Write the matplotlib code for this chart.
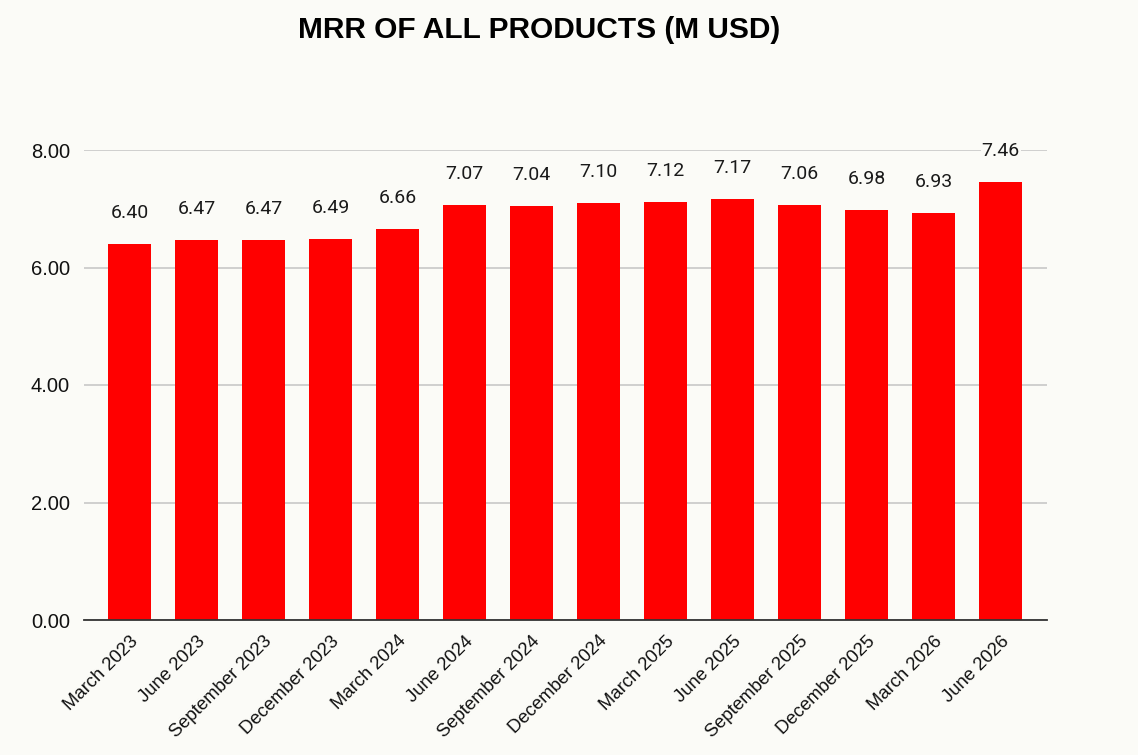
import matplotlib
matplotlib.use('Agg')
from matplotlib import pyplot as plt


QUARTERS = ['March 2023', 'June 2023', 'September 2023', 'December 2023',
            'March 2024', 'June 2024', 'September 2024', 'December 2024',
            'March 2025', 'June 2025', 'September 2025', 'December 2025',
            'March 2026', 'June 2026']
MRR = [6.40, 6.47, 6.47, 6.49, 6.66, 7.07, 7.04, 7.10, 7.12, 7.17,
       7.06, 6.98, 6.93, 7.46]
Y_TICKS = [0, 2, 4, 6, 8]

BG = '#fbfbf7'
RED = '#ff0000'

fig = plt.figure(figsize=(11.38, 7.55), dpi=100, facecolor=BG)
ax = fig.add_axes([84 / 1138, 1 - 620 / 755, (1047 - 84) / 1138, 470 / 755])
ax.set_facecolor(BG)

x = range(len(QUARTERS))
ax.bar(x, MRR, width=0.64, color=RED, zorder=2)

for xi, v in zip(x, MRR):
    ax.annotate(f'{v:.2f}', (xi, v), xytext=(0, 31), textcoords='offset pixels',
                ha='center', va='center', fontsize=14, family='Roboto',
                color='#1a1a1a', zorder=4,
                bbox=dict(boxstyle='square,pad=0.05', fc=BG, ec='none'))

ax.set_xlim(-0.68, 13.69)
ax.set_ylim(0, 8)
ax.set_yticks(Y_TICKS)
ax.set_yticklabels([f'{t:.2f}' for t in Y_TICKS], family='Liberation Sans',
                   fontsize=14.5, color='#111111')
ax.set_xticks(list(x))
ax.set_xticklabels(QUARTERS, rotation=45, ha='right', rotation_mode='anchor',
                   family='Liberation Sans', fontsize=13.3, color='#111111')
ax.tick_params(length=0, pad=10)
ax.tick_params(axis='x', pad=9)

ax.grid(axis='y', color='#c8c8c8', lw=1.2, zorder=0)
for s in ('top', 'right', 'left'):
    ax.spines[s].set_visible(False)
ax.spines['bottom'].set_color('#333333')
ax.spines['bottom'].set_linewidth(1.3)
ax.spines['bottom'].set_zorder(3)

fig.text(539 / 1138, 1 - 30 / 755, 'MRR OF ALL PRODUCTS (M USD)', ha='center',
         va='center', fontsize=21.5, fontweight='bold', family='Liberation Sans')

fig.savefig('out.png', dpi=100, facecolor=BG)
